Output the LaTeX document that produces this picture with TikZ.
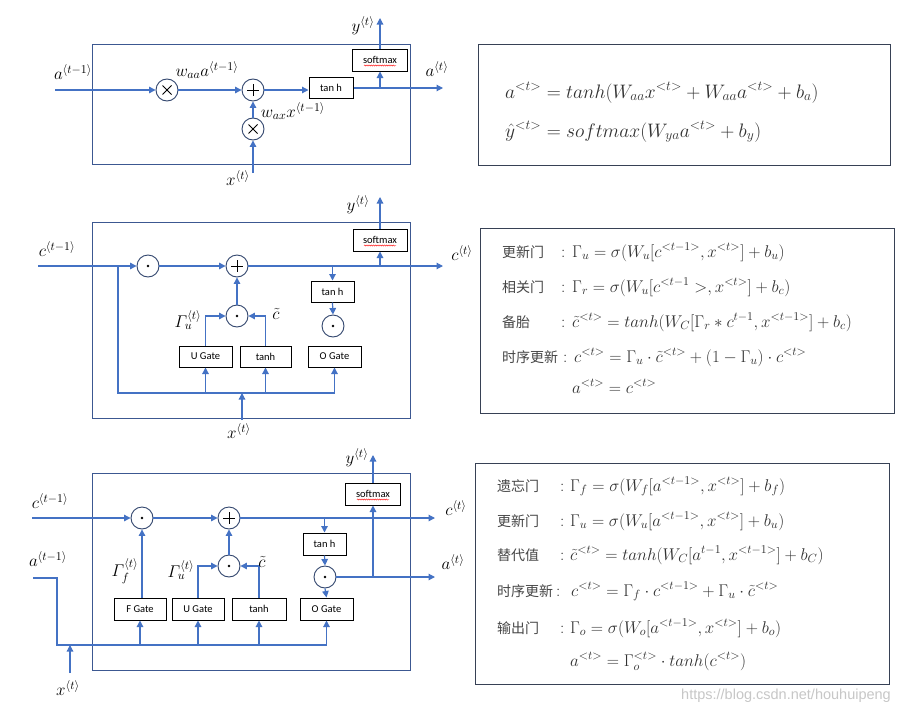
\RequirePackage{fix-cm}
\documentclass[tikz,border=0pt]{standalone}
\usepackage{amsmath}
\usepackage{fontspec}
\newfontfamily\cjk{Noto Sans CJK SC}
\newfontfamily\boxfont{Carlito}
\newfontfamily\wmfont{Liberation Sans}
\usetikzlibrary{arrows.meta,decorations.pathmorphing,calc}
\definecolor{lblue}{RGB}{68,114,196}
\definecolor{fblue}{RGB}{60,88,145}
\definecolor{fgray}{RGB}{55,65,85}
\definecolor{cdark}{RGB}{50,70,110}
\definecolor{txt}{RGB}{50,50,50}
\definecolor{cntxt}{RGB}{70,70,70}
\tikzset{
  ln/.style={draw=lblue, line width=1.2pt},
  arr/.style={ln, -{Triangle[length=6.5pt,width=6.5pt]}},
  opbase/.style={circle, draw=cdark, line width=0.9pt, minimum size=22pt, inner sep=0pt, fill=white},
  opdot/.style={opbase, path picture={\fill[black] (path picture bounding box.center) circle (1.4pt);}},
  opplus/.style={opbase, path picture={\draw[black,line width=0.9pt] ($(path picture bounding box.center)+(-6,0)$) -- ++(12,0) ($(path picture bounding box.center)+(0,-6)$) -- ++(0,12);}},
  optimes/.style={opbase, path picture={\draw[black,line width=0.9pt] ($(path picture bounding box.center)+(-4.5,-4.5)$) -- ++(9,9) ($(path picture bounding box.center)+(-4.5,4.5)$) -- ++(9,-9);}},
  blk/.style={draw=black, line width=1pt, fill=white, inner sep=0pt, minimum height=21pt, font=\boxfont\fontsize{10.5}{12}\selectfont},
  frame/.style={draw=fblue, line width=1pt},
  fbox/.style={draw=fgray, line width=1pt},
  lbl/.style={inner sep=0pt, font=\fontsize{17}{20}\selectfont},
  fm/.style={anchor=base west, inner sep=0pt, text=txt, font=\fontsize{17}{20}\selectfont},
  fmtop/.style={fm, font=\fontsize{19.5}{23}\selectfont},
  cn/.style={anchor=base west, inner sep=0pt, text=cntxt, font=\cjk\fontsize{14}{16}\selectfont},
  squig/.style={draw=red, line width=0.4pt, decorate, decoration={snake, amplitude=0.6pt, segment length=2.2pt}}
}
\begin{document}
\begin{tikzpicture}[x=1pt,y=-1pt]
\path[use as bounding box, fill=white] (0,0) rectangle (899,712);

%% ---------------- top: RNN ----------------
\draw[frame] (92,44) rectangle (410,164);
\node[optimes] (ot1) at (167,90) {};
\node[opplus]  (pt1) at (253,90) {};
\node[optimes] (xt1) at (253,129) {};
\node[blk, minimum width=44pt] (th1) at (331,88) {tan h};
\node[blk, minimum width=55pt, minimum height=22pt] (sm1) at (380,60) {softmax};
\draw[squig] ([xshift=-16pt,yshift=-5.5pt]sm1.center) -- ([xshift=16pt,yshift=-5.5pt]sm1.center);
\coordinate (in1) at (55,90);
\coordinate (out1) at (443,88);
\coordinate (yt1) at (380,18);
\coordinate (xb1) at (253,173);
\draw[arr] (in1) -- (ot1.west);
\draw[arr] (ot1.east) -- (pt1.west);
\draw[arr] (pt1.east) -- (th1.west |- pt1.east);
\draw[arr] (th1.east) -- (out1);
\draw[arr] (sm1.south |- th1.east) -- (sm1.south);
\draw[arr] (sm1.north) -- (yt1);
\draw[arr] (xb1) -- (xt1.south);
\draw[arr] (xt1.north) -- (pt1.south);
\node[lbl] (l1a) at (73,72) {$a^{\langle t-1\rangle}$};
\node[lbl] (l1b) at (207,70) {$w_{aa}a^{\langle t-1\rangle}$};
\node[lbl] (l1c) at (293,111) {$w_{ax}x^{\langle t-1\rangle}$};
\node[lbl] (l1d) at (238,178) {$x^{\langle t\rangle}$};
\node[lbl] (l1e) at (363,26) {$y^{\langle t\rangle}$};
\node[lbl] (l1f) at (437,69) {$a^{\langle t\rangle}$};

\draw[fbox] (478,44) rectangle (890,165);
\node[fmtop] (f1a) at (505,98) {$a^{<t>} = tanh(W_{aa}x^{<t>} + W_{aa}a^{<t>} + b_a)$};
\node[fmtop] (f1b) at (505,137) {$\hat{y}^{<t>} = softmax(W_{ya}a^{<t>} + b_y)$};

%% ---------------- middle ----------------
\draw[frame] (92,222) rectangle (410,418);
\coordinate (in2) at (38,266);
\coordinate (out2) at (443,266);
\coordinate (br2) at (118,266);
\coordinate (bl2) at (118,393);
\coordinate (yt2) at (380,197);
\coordinate (xb2) at (242,420);
\coordinate (xj2) at (242,393);
\node[opdot]  (od2a) at (148,266) {};
\node[opplus] (pl2)  at (237,266) {};
\node[opdot]  (od2b) at (237,316) {};
\node[opdot]  (od2c) at (333,326) {};
\node[blk, minimum width=43pt] (th2) at (332.5,291.5) {tan h};
\node[blk, minimum width=54pt, minimum height=22pt] (sm2) at (380,240) {softmax};
\draw[squig] ([xshift=-16pt,yshift=-5.5pt]sm2.center) -- ([xshift=16pt,yshift=-5.5pt]sm2.center);
\node[blk, minimum width=53pt] (ug2) at (205.5,356.5) {U Gate};
\node[blk, minimum width=51pt] (tn2) at (265.5,356.5) {tanh};
\node[blk, minimum width=53pt] (og2) at (334.5,356.5) {O Gate};
\draw[arr] (in2) -- (od2a.west);
\draw[arr] (od2a.east) -- (pl2.west);
\draw[arr] (pl2.east) -- (out2);
\draw[arr] (th2.north |- in2) -- (th2.north);
\draw[arr] (th2.south) -- (od2c.north);
\draw[arr] (sm2.south |- in2) -- (sm2.south);
\draw[arr] (sm2.north) -- (yt2);
\draw[arr] (od2b.north) -- (pl2.south);
\draw[arr] (ug2.north) |- (od2b.west);
\draw[arr] (tn2.north) |- (od2b.east);
\draw[arr] (br2) -- (bl2) -| (og2.south);
\draw[arr] (ug2.south |- bl2) -- (ug2.south);
\draw[arr] (tn2.south |- bl2) -- (tn2.south);
\draw[arr] (xb2) -- (xj2);
\node[lbl] (l2a) at (57,249) {$c^{\langle t-1\rangle}$};
\node[lbl] (l2b) at (358,205) {$y^{\langle t\rangle}$};
\node[lbl] (l2c) at (462,253) {$c^{\langle t\rangle}$};
\node[lbl] (l2d) at (188,320) {$\varGamma_{u}^{\langle t\rangle}$};
\node[lbl] (l2e) at (276,314) {$\tilde{c}$};
\node[lbl] (l2f) at (239,431) {$x^{\langle t\rangle}$};

\draw[fbox] (480,228) rectangle (894,413);
\node[cn] (c2a) at (502,257) {更新门};
\node[cn] (c2b) at (502,292) {相关门};
\node[cn] (c2c) at (502,327) {备胎};
\node[cn] (c2d) at (502,362) {时序更新};
\node[fm] (k2a) at (561,257) {:};
\node[fm] (k2b) at (561,292) {:};
\node[fm] (k2c) at (561,327) {:};
\node[fm] (k2d) at (563,362) {:};
\node[fm] (f2a) at (572,257) {$\Gamma_u = \sigma(W_u[c^{<t-1>}, x^{<t>}] + b_u)$};
\node[fm] (f2b) at (572,292) {$\Gamma_r = \sigma(W_u[c^{<t-1} >, x^{<t>}] + b_c)$};
\node[fm] (f2c) at (572,327) {$\tilde{c}^{<t>} = tanh(W_C[\Gamma_r * c^{t-1}, x^{<t-1>}] + b_c)$};
\node[fm] (f2d) at (574,362) {$c^{<t>} = \Gamma_u \cdot \tilde{c}^{<t>} + (1 - \Gamma_u) \cdot c^{<t>}$};
\node[fm] (f2e) at (572,393) {$a^{<t>} = c^{<t>}$};

%% ---------------- bottom: LSTM ----------------
\draw[frame] (92,473) rectangle (410,670);
\coordinate (in3) at (32,518);
\coordinate (out3c) at (435,518);
\coordinate (out3a) at (435,577);
\coordinate (ia3) at (33,578);
\coordinate (k31) at (57,578);
\coordinate (k32) at (57,645);
\coordinate (yt3) at (373,455);
\coordinate (xb3) at (70,673);
\coordinate (xj3) at (70,645);
\node[opdot]  (od3a) at (142,518) {};
\node[opplus] (pl3)  at (229,518) {};
\node[opdot]  (od3b) at (229,566) {};
\node[opdot]  (od3c) at (325,577) {};
\node[blk, minimum width=43pt, minimum height=22pt] (th3) at (324.5,544) {tan h};
\node[blk, minimum width=55pt, minimum height=22pt] (sm3) at (373,494) {softmax};
\draw[squig] ([xshift=-16pt,yshift=-5.5pt]sm3.center) -- ([xshift=16pt,yshift=-5.5pt]sm3.center);
\node[blk, minimum width=52pt, minimum height=22pt] (fg3) at (140,609) {F Gate};
\node[blk, minimum width=52pt, minimum height=22pt] (ug3) at (198,609) {U Gate};
\node[blk, minimum width=54pt, minimum height=22pt] (tn3) at (259,609) {tanh};
\node[blk, minimum width=53pt, minimum height=22pt] (og3) at (326.5,609) {O Gate};
\draw[arr] (in3) -- (od3a.west);
\draw[arr] (od3a.east) -- (pl3.west);
\draw[arr] (pl3.east) -- (out3c);
\draw[arr] (th3.north |- in3) -- (th3.north);
\draw[arr] (th3.south) -- (od3c.north);
\draw[arr] (od3c.south) -- (og3.north);
\draw[arr] (od3c.east) -- (out3a);
\draw[arr] (sm3.south |- od3c.east) -- (sm3.south);
\draw[arr] (sm3.north) -- (yt3);
\draw[arr] (od3b.north) -- (pl3.south);
\draw[arr] (fg3.north -| od3a) -- (od3a.south);
\draw[arr] (ug3.north) |- (od3b.west);
\draw[arr] (tn3.north) |- (od3b.east);
\draw[arr] (ia3) -- (k31) -- (k32) -| (og3.south);
\draw[arr] (fg3.south |- k32) -- (fg3.south);
\draw[arr] (ug3.south |- k32) -- (ug3.south);
\draw[arr] (tn3.south |- k32) -- (tn3.south);
\draw[arr] (xb3) -- (xj3);
\node[lbl] (l3a) at (50,501) {$c^{\langle t-1\rangle}$};
\node[lbl] (l3b) at (48,559) {$a^{\langle t-1\rangle}$};
\node[lbl] (l3c) at (125,571) {$\varGamma_{f}^{\langle t\rangle}$};
\node[lbl] (l3d) at (181,570) {$\varGamma_{u}^{\langle t\rangle}$};
\node[lbl] (l3e) at (262,562) {$\tilde{c}$};
\node[lbl] (l3f) at (357,458) {$y^{\langle t\rangle}$};
\node[lbl] (l3g) at (68,688) {$x^{\langle t\rangle}$};
\node[lbl] (l3h) at (456,508) {$c^{\langle t\rangle}$};
\node[lbl] (l3i) at (453,562) {$a^{\langle t\rangle}$};

\draw[fbox] (475,463) rectangle (889,684);
\node[cn] (c3a) at (497,491) {遗忘门};
\node[cn] (c3b) at (497,526) {更新门};
\node[cn] (c3c) at (497,560) {替代值};
\node[cn] (c3d) at (497,596) {时序更新};
\node[cn] (c3e) at (497,633) {输出门};
\node[fm] (k3a) at (560,491) {:};
\node[fm] (k3b) at (560,526) {:};
\node[fm] (k3c) at (560,560) {:};
\node[fm] (k3d) at (556,596) {:};
\node[fm] (k3e) at (560,633) {:};
\node[fm] (f3a) at (570,491) {$\Gamma_f = \sigma(W_f[a^{<t-1>}, x^{<t>}] + b_f)$};
\node[fm] (f3b) at (570,526) {$\Gamma_u = \sigma(W_u[a^{<t-1>}, x^{<t>}] + b_u)$};
\node[fm] (f3c) at (570,560) {$\tilde{c}^{<t>} = tanh(W_C[a^{t-1}, x^{<t-1>}] + b_C)$};
\node[fm] (f3d) at (571,596) {$c^{<t>} = \Gamma_f \cdot c^{<t-1>} + \Gamma_u \cdot \tilde{c}^{<t>}$};
\node[fm] (f3e) at (570,633) {$\Gamma_o = \sigma(W_o[a^{<t-1>}, x^{<t>}] + b_o)$};
\node[fm] (f3f) at (570,666) {$a^{<t>} = \Gamma_o^{<t>} \cdot tanh(c^{<t>})$};

\node[anchor=base east, inner sep=0pt, text=black!22, font=\wmfont\fontsize{14.5}{16}\selectfont] (wm) at (891,699) {https://blog.csdn.net/houhuipeng};
\end{tikzpicture}
\end{document}
